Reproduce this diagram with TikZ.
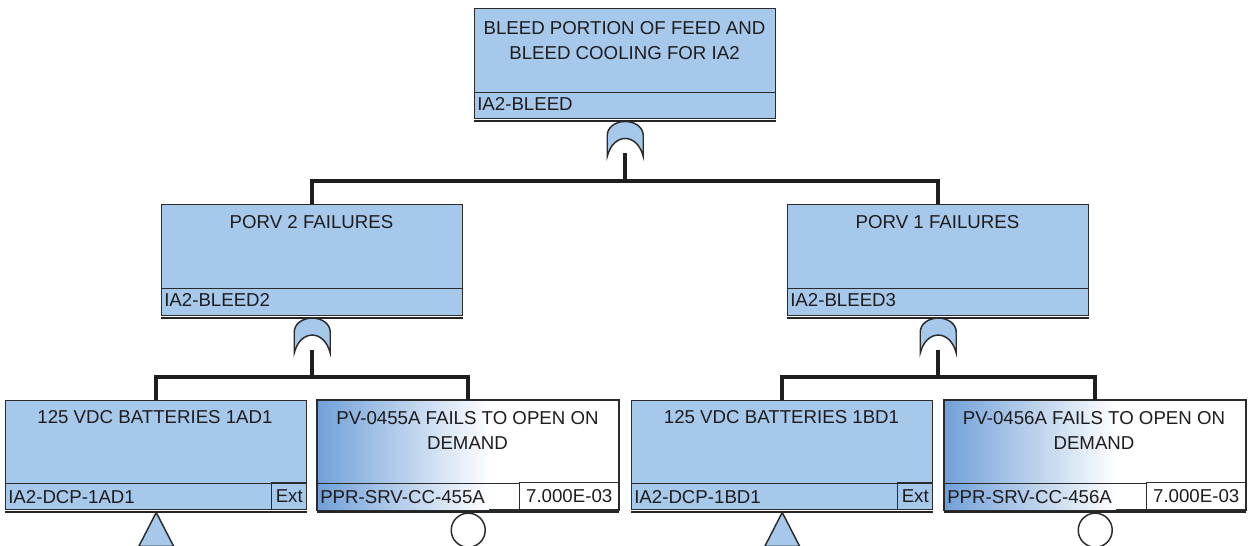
\documentclass[tikz,border=0pt]{standalone}
\usepackage{fontspec}
\setmainfont{Liberation Sans}
\definecolor{evblue}{HTML}{A6C8EA}
\definecolor{gradblue}{HTML}{72A1D9}
\definecolor{edgec}{HTML}{2B2B2B}
\definecolor{txt}{HTML}{1F1C1D}
\definecolor{connc}{HTML}{1E1E1E}
\begin{document}
\begin{tikzpicture}[x=0.75pt,y=-0.75pt,
  every node/.style={text=txt, font=\fontsize{14}{18.75}\selectfont},
  boxbase/.style={draw=edgec, line width=1.1pt, rectangle, inner sep=0pt, minimum width=225.75pt, anchor=north west},
  gbox/.style={boxbase, fill=evblue},
  ebox/.style={boxbase, fill=white},
  shadowline/.style={draw=edgec!85!black, line width=1.3pt},
  divline/.style={draw=edgec, line width=1.1pt},
  ttl/.style={align=center, anchor=center},
  ttl1/.style={anchor=base},
  idt/.style={anchor=base west, inner sep=0pt},
  extcell/.style={draw=edgec, line width=1.1pt, anchor=south east, minimum width=26.25pt, minimum height=20.25pt, inner sep=0pt},
  valcell/.style={draw=edgec, line width=1.1pt, fill=white, anchor=south east, minimum width=74.25pt, minimum height=20.25pt, inner sep=0pt},
  conn/.style={draw=connc, line width=3pt},
  orgate/.pic={\filldraw[fill=evblue, draw=edgec, line width=1.1pt]
     (-18,35) -- (-18,14) .. controls (-18,6) and (-10,0) .. (0,0)
     .. controls (10,0) and (18,6) .. (18,14) -- (18,35)
     .. controls (12,11) and (-12,11) .. (-18,35) -- cycle;},
  basicev/.style={circle, draw=edgec, line width=1.1pt, fill=white, minimum size=25.5pt, inner sep=0pt, anchor=north}
]
\useasboundingbox (0,0) rectangle (1254,546);

% ---------- top gate ----------
\node[gbox, minimum height=82.5pt] (top) at (474,8) {};
\draw[shadowline] ([yshift=-0.9pt]top.south west) -- ([yshift=-0.9pt]top.south east);
\draw[divline] ([yshift=20.25pt]top.south west) -- ([yshift=20.25pt]top.south east);
\node[ttl] (topT) at (624.5,40.5) {BLEED PORTION OF FEED AND\\BLEED COOLING FOR IA2};
\node[idt] (topI) at (477,110.7) {IA2-BLEED};
\coordinate (g0) at ([yshift=-1.5pt]top.south);
\pic at (g0) {orgate};
\coordinate (g0s) at ([yshift=-24pt]g0);
\coordinate (j0) at ([yshift=-45pt]g0);

% ---------- middle gates ----------
\node[gbox, minimum height=83.25pt] (midL) at (161,204) {};
\draw[shadowline] ([yshift=-0.9pt]midL.south west) -- ([yshift=-0.9pt]midL.south east);
\draw[divline] ([yshift=21pt]midL.south west) -- ([yshift=21pt]midL.south east);
\node[ttl1] (midLT) at (311.5,228.7) {PORV 2 FAILURES};
\node[idt] (midLI) at (164,306.7) {IA2-BLEED2};
\coordinate (g1) at ([yshift=-1.2pt]midL.south);
\pic at (g1) {orgate};
\coordinate (g1s) at ([yshift=-24pt]g1);
\coordinate (j1) at ([yshift=-44pt]g1);

\node[gbox, minimum height=83.25pt] (midR) at (787,204) {};
\draw[shadowline] ([yshift=-0.9pt]midR.south west) -- ([yshift=-0.9pt]midR.south east);
\draw[divline] ([yshift=21pt]midR.south west) -- ([yshift=21pt]midR.south east);
\node[ttl1] (midRT) at (937.5,228.7) {PORV 1 FAILURES};
\node[idt] (midRI) at (790,306.7) {IA2-BLEED3};
\coordinate (g2) at ([yshift=-1.2pt]midR.south);
\pic at (g2) {orgate};
\coordinate (g2s) at ([yshift=-24pt]g2);
\coordinate (j2) at ([yshift=-44pt]g2);

% ---------- bottom events ----------
\node[gbox, minimum height=81.75pt] (b1) at (5,400) {};
\draw[shadowline] ([yshift=-0.9pt]b1.south west) -- ([yshift=-0.9pt]b1.south east);
\draw[divline] ([yshift=20.25pt]b1.south west) -- ([yshift=20.25pt]b1.south east);
\node[ttl1] (b1T) at (155,423.7) {125 VDC BATTERIES 1AD1};
\node[idt] (b1I) at (8,503.7) {IA2-DCP-1AD1};
\node[extcell] (b1E) at (b1.south east) {Ext};
\draw[fill=evblue, draw=edgec, line width=1.1pt] ([yshift=-1.5pt]b1.south) -- ++(-17.5,34) -- ++(35,0) -- cycle;

\node[ebox, minimum height=81.75pt] (b2) at (317,400) {};
\foreach \i in {0,...,42} {
  \pgfmathsetmacro\p{100-\i*100/43}
  \fill[gradblue!\p!white] ([xshift=\i*3pt]b2.north west) rectangle ([xshift=\i*3pt+3.2pt]b2.south west);
}
\draw[boxbase] (b2.north west) rectangle (b2.south east);
\draw[shadowline] ([yshift=-0.9pt]b2.south west) -- ([yshift=-0.9pt]b2.south east);
\draw[divline] ([yshift=20.25pt]b2.south west) -- ([yshift=20.25pt]b2.south east);
\node[ttl] (b2T) at (467.5,430.5) {PV-0455A FAILS TO OPEN ON\\DEMAND};
\node[idt] (b2I) at (320,503.7) {PPR-SRV-CC-455A};
\node[valcell] (b2V) at (b2.south east) {7.000E-03};
\node[basicev] (c2) at ([yshift=-1.5pt]b2.south) {};

\node[gbox, minimum height=81.75pt] (b3) at (631,400) {};
\draw[shadowline] ([yshift=-0.9pt]b3.south west) -- ([yshift=-0.9pt]b3.south east);
\draw[divline] ([yshift=20.25pt]b3.south west) -- ([yshift=20.25pt]b3.south east);
\node[ttl1] (b3T) at (781.5,423.7) {125 VDC BATTERIES 1BD1};
\node[idt] (b3I) at (634,503.7) {IA2-DCP-1BD1};
\node[extcell] (b3E) at (b3.south east) {Ext};
\draw[fill=evblue, draw=edgec, line width=1.1pt] ([yshift=-1.5pt]b3.south) -- ++(-17.5,34) -- ++(35,0) -- cycle;

\node[ebox, minimum height=81.75pt] (b4) at (944,400) {};
\foreach \i in {0,...,42} {
  \pgfmathsetmacro\p{100-\i*100/43}
  \fill[gradblue!\p!white] ([xshift=\i*3pt]b4.north west) rectangle ([xshift=\i*3pt+3.2pt]b4.south west);
}
\draw[boxbase] (b4.north west) rectangle (b4.south east);
\draw[shadowline] ([yshift=-0.9pt]b4.south west) -- ([yshift=-0.9pt]b4.south east);
\draw[divline] ([yshift=20.25pt]b4.south west) -- ([yshift=20.25pt]b4.south east);
\node[ttl] (b4T) at (1094,430.5) {PV-0456A FAILS TO OPEN ON\\DEMAND};
\node[idt] (b4I) at (947,503.7) {PPR-SRV-CC-456A};
\node[valcell] (b4V) at (b4.south east) {7.000E-03};
\node[basicev] (c4) at ([yshift=-1.5pt]b4.south) {};

% ---------- connectors ----------
\draw[conn] (g0s) -- (j0);
\draw[conn] (midL.north) |- (j0) -| (midR.north);
\draw[conn] (g1s) -- (j1);
\draw[conn] (b1.north) |- (j1) -| (b2.north);
\draw[conn] (g2s) -- (j2);
\draw[conn] (b3.north) |- (j2) -| (b4.north);
\end{tikzpicture}
\end{document}
